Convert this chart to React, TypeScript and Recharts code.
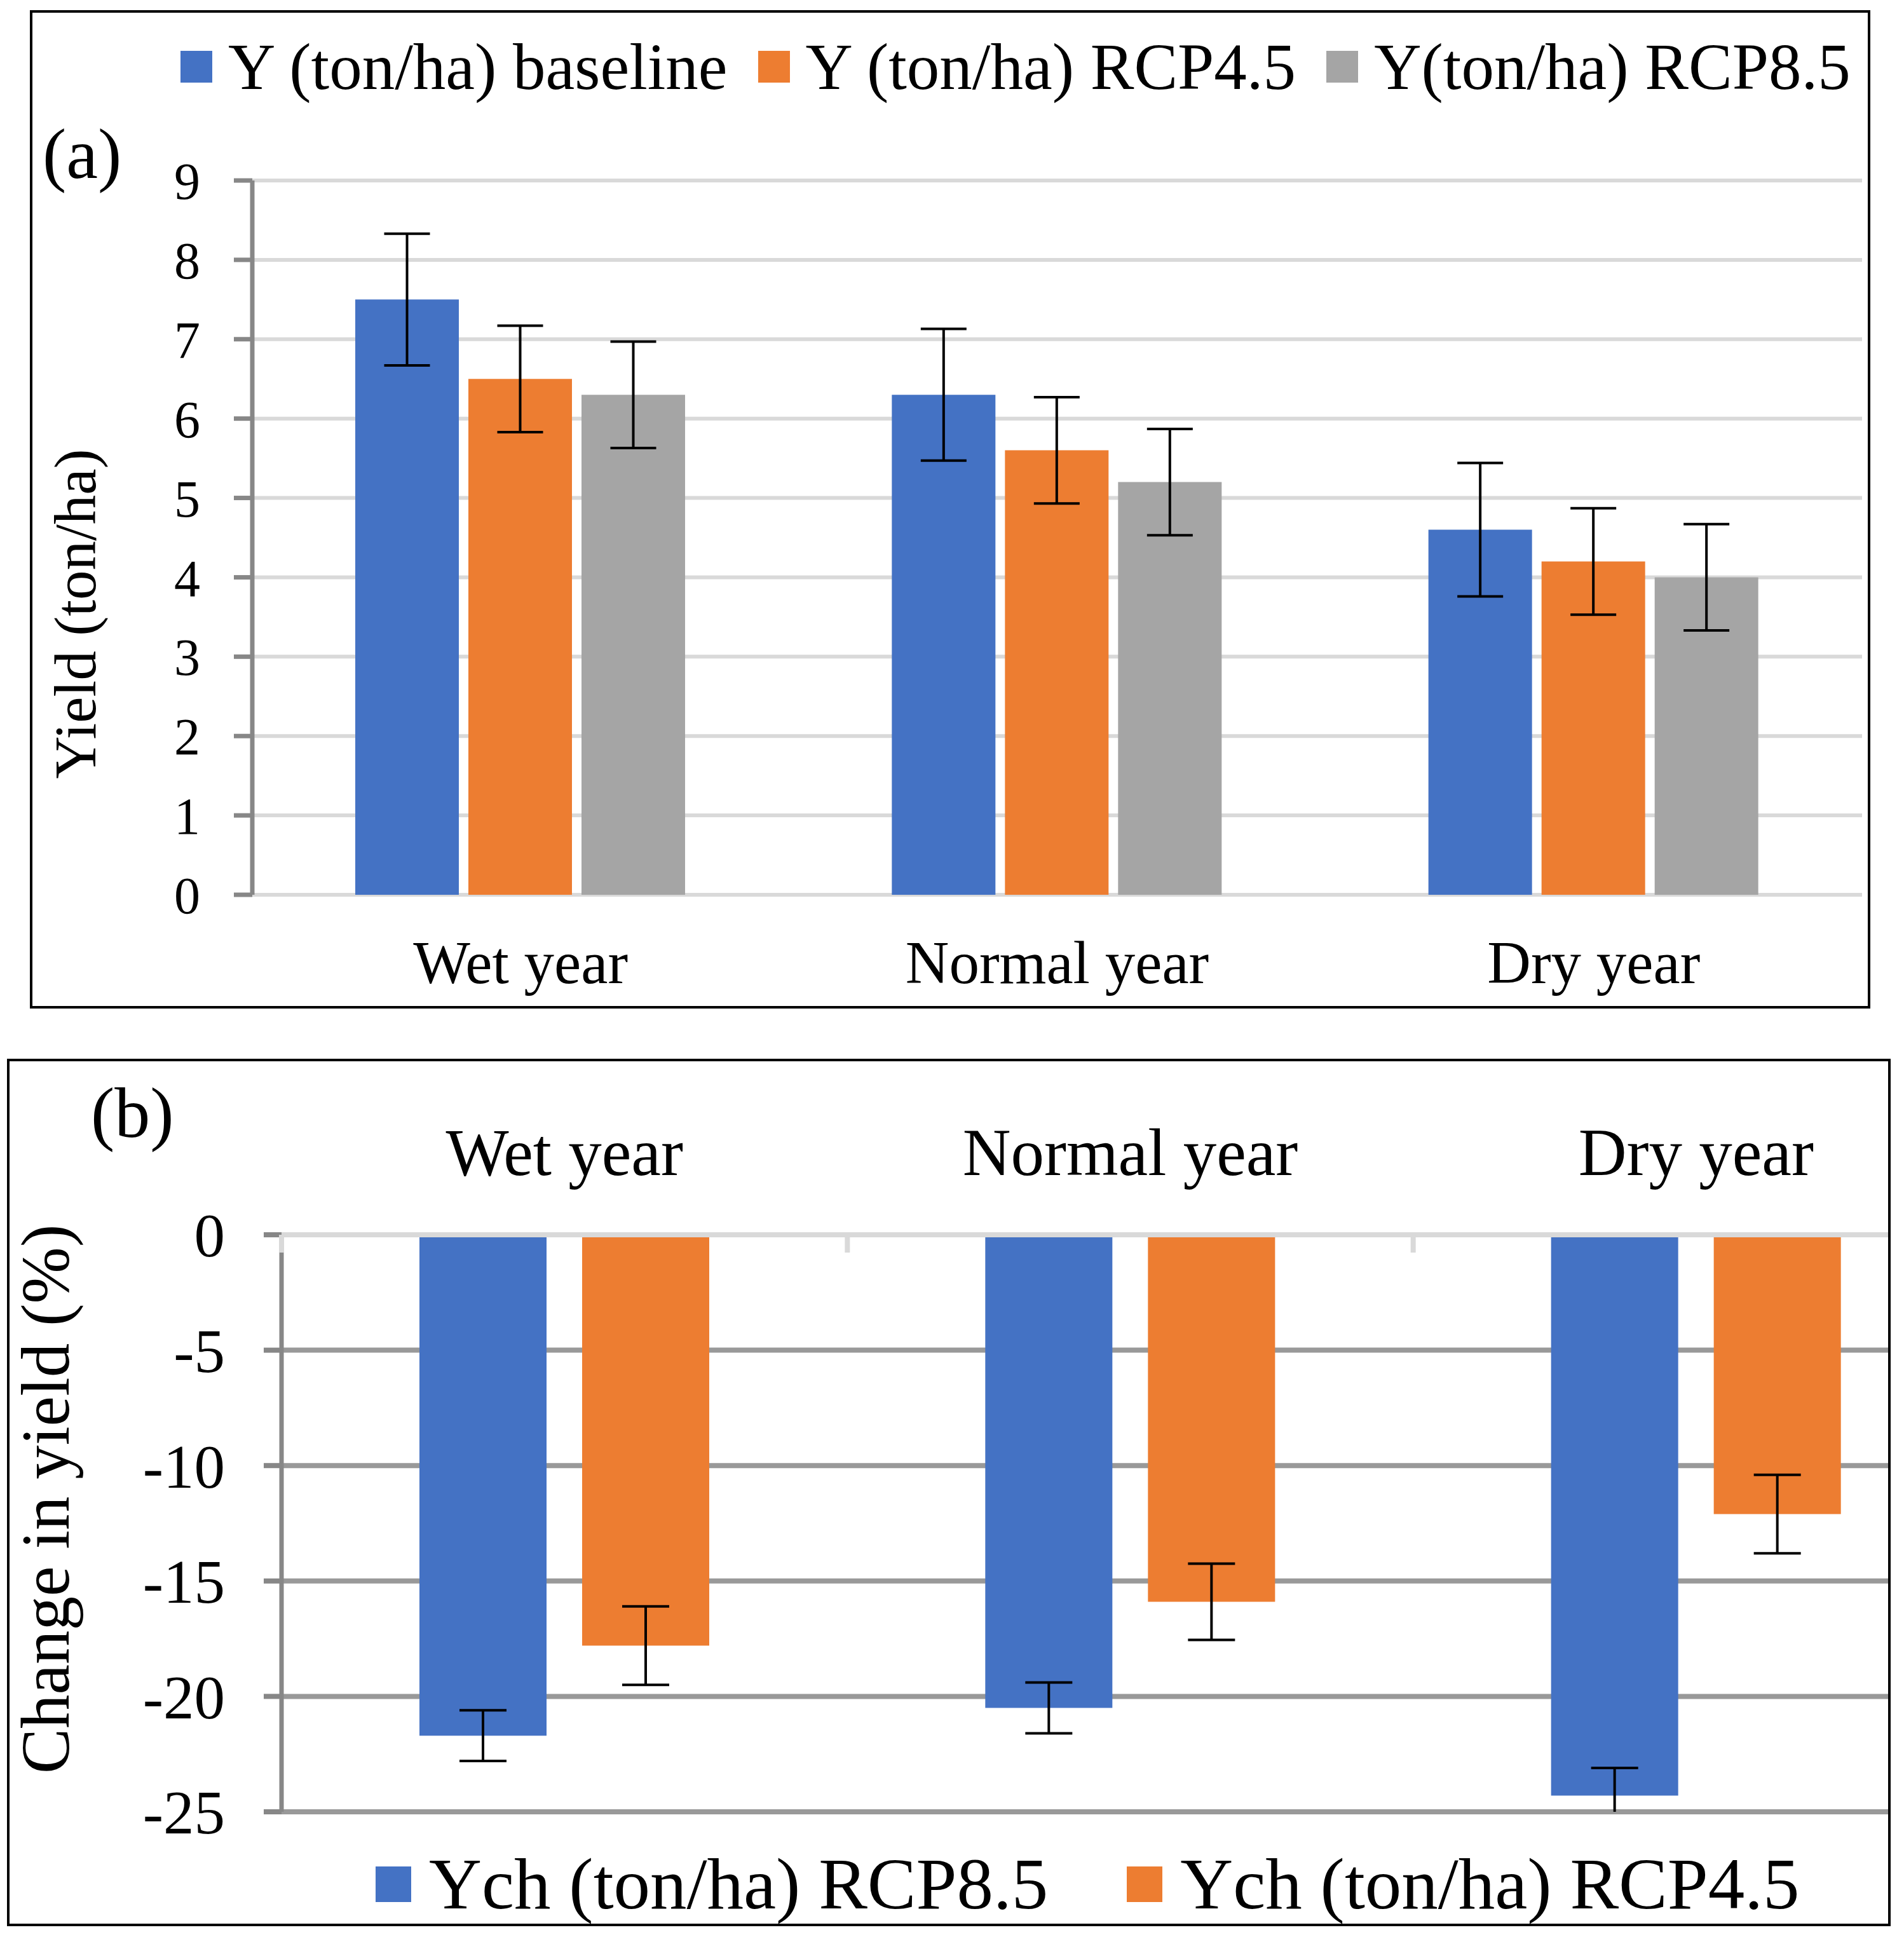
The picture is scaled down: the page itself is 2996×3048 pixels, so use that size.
import { BarChart, Bar, XAxis, YAxis, CartesianGrid, ErrorBar, Legend } from "recharts";

const FONT = "'Liberation Serif', 'Times New Roman', serif";

const categories = ["Wet year", "Normal year", "Dry year"];

// (a) yield in ton/ha, with +/- error
const yieldBaseline = [7.5, 6.3, 4.6];
const yieldBaselineErr = [0.83, 0.83, 0.84];
const yieldRcp45 = [6.5, 5.6, 4.2];
const yieldRcp45Err = [0.67, 0.67, 0.67];
const yieldRcp85 = [6.3, 5.2, 4.0];
const yieldRcp85Err = [0.67, 0.67, 0.67];
const yieldTicks = [0, 1, 2, 3, 4, 5, 6, 7, 8, 9];

// (b) change in yield in %, with +/- error
const changeRcp85 = [-21.7, -20.5, -24.3];
const changeRcp85Err = [1.1, 1.1, 1.2];
const changeRcp45 = [-17.8, -15.9, -12.1];
const changeRcp45Err = [1.7, 1.65, 1.7];
const changeTicks = [0, -5, -10, -15, -20, -25];

const seriesA = ["Y (ton/ha) baseline", "Y (ton/ha) RCP4.5", "Y(ton/ha) RCP8.5"];
const seriesB = ["Ych (ton/ha) RCP8.5", "Ych (ton/ha) RCP4.5"];

const BLUE = "#4472C4";
const ORANGE = "#ED7D31";
const GRAY = "#A5A5A5";
const AXIS = "#878787";
const LIGHT = "#d9d9d9";

const yieldRows = categories.map((name, i) => ({
  name,
  base: yieldBaseline[i],
  baseErr: yieldBaselineErr[i],
  rcp45: yieldRcp45[i],
  rcp45Err: yieldRcp45Err[i],
  rcp85: yieldRcp85[i],
  rcp85Err: yieldRcp85Err[i],
}));

const changeRows = categories.map((name, i) => ({
  name,
  rcp85: changeRcp85[i],
  rcp85Err: changeRcp85Err[i],
  rcp45: changeRcp45[i],
  rcp45Err: changeRcp45Err[i],
}));

// layout of chart (b); the plot runs past the right frame edge and gets cut there
const B_W = 3200;
const B_H = 1448;
const B_MARGIN = { top: 143, right: 86, bottom: 197, left: 343 };
const B_XAXIS_H = 200;
const B_YAXIS_W = 100;
const B_PLOT_BOTTOM = B_H - B_MARGIN.bottom;

type LegendLook = {
  fontSize: number;
  height: number;
  lineHeight: number;
  swatch: number;
  swatchGap: number;
  itemGap: number;
  order: string[];
};

// legend keeps the series order instead of sorting by name
const makeLegend = (look: LegendLook) => (props: any) => {
  const items = [...(props.payload ?? [])].sort(
    (a: any, b: any) => look.order.indexOf(a.value) - look.order.indexOf(b.value)
  );
  return (
    <div
      style={{
        display: "flex",
        alignItems: "center",
        height: look.height,
        fontFamily: FONT,
        fontSize: look.fontSize,
        lineHeight: look.lineHeight,
        whiteSpace: "nowrap",
        color: "#000",
      }}
    >
      {items.map((item: any, i: number) => (
        <div
          key={item.value}
          style={{ display: "flex", alignItems: "center", marginLeft: i ? look.itemGap : 0 }}
        >
          <span
            style={{
              display: "inline-block",
              width: look.swatch,
              height: look.swatch,
              background: item.color,
              marginRight: look.swatchGap,
            }}
          />
          <span>{item.value}</span>
        </div>
      ))}
    </div>
  );
};

const legendA = makeLegend({
  fontSize: 103,
  height: 110,
  lineHeight: 1,
  swatch: 50,
  swatchGap: 25,
  itemGap: 48,
  order: seriesA,
});
const legendB = makeLegend({
  fontSize: 115,
  height: 104,
  lineHeight: 0.9,
  swatch: 56,
  swatchGap: 28,
  itemGap: 124,
  order: seriesB,
});

// top category labels for (b), plus the short marks between categories
const CAT_MARGIN_B = 94;
const TopCategoryTick = (props: any) => {
  const { x, y, payload, index, visibleTicksCount } = props;
  const axisY = y + CAT_MARGIN_B;
  const half = payload.offset ?? 0;
  const edges = [x - half];
  if (index === visibleTicksCount - 1) edges.push(x + half);
  return (
    <g>
      {edges.map((ex) => (
        <line key={ex} x1={ex} x2={ex} y1={axisY} y2={axisY + 28} stroke={LIGHT} strokeWidth={8} />
      ))}
      <text x={x} y={y} textAnchor="middle" fontFamily={FONT} fontSize={105} fill="#000">
        {payload.value}
      </text>
    </g>
  );
};

const panelTag = (text: string, left: number, top: number) => (
  <div
    style={{
      position: "absolute",
      left,
      top,
      fontFamily: FONT,
      fontSize: 112,
      lineHeight: 1,
      color: "#000",
    }}
  >
    {text}
  </div>
);

const YieldChart = () => (
  <BarChart
    width={2996}
    height={1600}
    data={yieldRows}
    margin={{ top: 284, right: 66, bottom: 42, left: 297 }}
    barCategoryGap={162}
    barGap={15}
  >
    <CartesianGrid vertical={false} stroke={LIGHT} strokeWidth={6} />
    <XAxis
      dataKey="name"
      height={150}
      interval={0}
      tickSize={0}
      tickMargin={72}
      axisLine={false}
      tickLine={false}
      tick={{ fontSize: 95, fontFamily: FONT, fill: "#000" }}
    />
    <YAxis
      type="number"
      domain={[0, 9]}
      ticks={yieldTicks}
      interval={0}
      width={100}
      tickSize={29}
      tickMargin={53}
      axisLine={{ stroke: AXIS, strokeWidth: 7 }}
      tickLine={{ stroke: AXIS, strokeWidth: 7 }}
      tick={{ fontSize: 82, fontFamily: FONT, fill: "#000" }}
      label={{
        value: "Yield (ton/ha)",
        angle: -90,
        position: "center",
        dx: -230,
        dy: 120,
        fontSize: 93,
        fontFamily: FONT,
        fill: "#000",
      }}
    />
    <Legend
      layout="horizontal"
      verticalAlign="middle"
      align="center"
      content={legendA}
      wrapperStyle={{ left: 284, top: 50, width: "auto", height: 110 }}
    />
    <Bar dataKey="base" name={seriesA[0]} fill={BLUE} isAnimationActive={false}>
      <ErrorBar dataKey="baseErr" width={36} strokeWidth={4} stroke="#000" />
    </Bar>
    <Bar dataKey="rcp45" name={seriesA[1]} fill={ORANGE} isAnimationActive={false}>
      <ErrorBar dataKey="rcp45Err" width={36} strokeWidth={4} stroke="#000" />
    </Bar>
    <Bar dataKey="rcp85" name={seriesA[2]} fill={GRAY} isAnimationActive={false}>
      <ErrorBar dataKey="rcp85Err" width={36} strokeWidth={4} stroke="#000" />
    </Bar>
  </BarChart>
);

const ChangeChart = () => (
  <BarChart
    width={B_W}
    height={B_H}
    data={changeRows}
    margin={B_MARGIN}
    barCategoryGap={217}
    barGap={56}
  >
    <CartesianGrid vertical={false} stroke="#999" strokeWidth={8} />
    <XAxis
      dataKey="name"
      orientation="top"
      height={B_XAXIS_H}
      interval={0}
      tickSize={0}
      tickMargin={CAT_MARGIN_B}
      axisLine={{ stroke: LIGHT, strokeWidth: 8 }}
      tickLine={false}
      tick={TopCategoryTick}
    />
    <YAxis
      type="number"
      domain={[-25, 0]}
      allowDataOverflow
      ticks={changeTicks}
      interval={0}
      width={B_YAXIS_W}
      tickSize={28}
      tickMargin={61}
      axisLine={{ stroke: AXIS, strokeWidth: 7 }}
      tickLine={{ stroke: AXIS, strokeWidth: 8 }}
      tick={{ fontSize: 97, fontFamily: FONT, fill: "#000" }}
      label={{
        value: "Change in yield (%)",
        angle: -90,
        position: "center",
        dx: -323,
        dy: -38,
        fontSize: 107,
        fontFamily: FONT,
        fill: "#000",
      }}
    />
    <Legend
      layout="horizontal"
      verticalAlign="middle"
      align="center"
      content={legendB}
      wrapperStyle={{ left: 591, top: 1313, width: "auto", height: 104 }}
    />
    <Bar dataKey="rcp85" name={seriesB[0]} fill={BLUE} isAnimationActive={false}>
      <ErrorBar dataKey="rcp85Err" width={37} strokeWidth={4} stroke="#000" />
    </Bar>
    <Bar dataKey="rcp45" name={seriesB[1]} fill={ORANGE} isAnimationActive={false}>
      <ErrorBar dataKey="rcp45Err" width={37} strokeWidth={4} stroke="#000" />
    </Bar>
  </BarChart>
);

export default function App() {
  return (
    <div
      style={{
        position: "absolute",
        left: 0,
        top: 0,
        width: 2996,
        height: 3048,
        background: "#fff",
        overflow: "hidden",
      }}
    >
      {/* error bars running past the -25 floor are cut at the plot edge */}
      <style>{`.change-chart .recharts-errorBar { clip-path: url(#change-plot-clip); }`}</style>
      <svg width={0} height={0} style={{ position: "absolute" }}>
        <defs>
          <clipPath id="change-plot-clip" clipPathUnits="userSpaceOnUse">
            <rect x={0} y={0} width={B_W} height={B_PLOT_BOTTOM} />
          </clipPath>
        </defs>
      </svg>

      <div
        style={{
          position: "absolute",
          left: 47,
          top: 16,
          width: 2896,
          height: 1571,
          border: "4px solid #000",
          boxSizing: "border-box",
        }}
      />
      <div style={{ position: "absolute", left: 0, top: 0 }}>
        <YieldChart />
      </div>
      {panelTag("(a)", 67, 186)}

      <div
        style={{
          position: "absolute",
          left: 11,
          top: 1666,
          width: 2964,
          height: 1365,
          border: "4px solid #000",
          boxSizing: "border-box",
          overflow: "hidden",
        }}
      >
        <div className="change-chart" style={{ position: "absolute", left: -15, top: -70 }}>
          <ChangeChart />
        </div>
      </div>
      {panelTag("(b)", 143, 1695)}
    </div>
  );
}
